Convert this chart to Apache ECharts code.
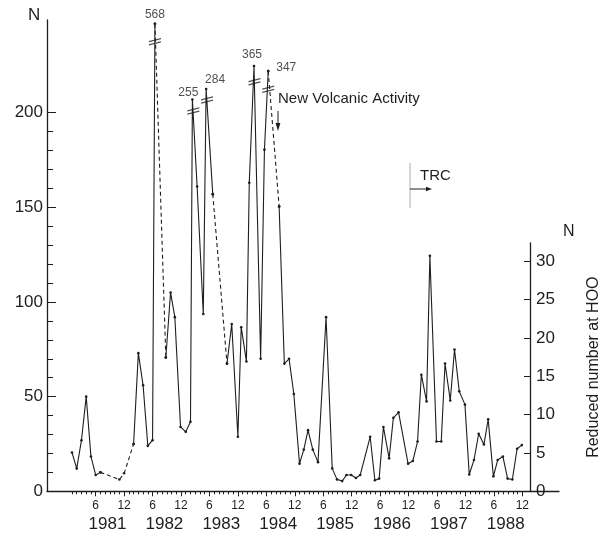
<!DOCTYPE html>
<html>
<head>
<meta charset="utf-8">
<script src="https://cdn.jsdelivr.net/npm/echarts@6/dist/echarts.min.js"></script>
<style>html,body{margin:0;padding:0;background:#fff}#c{width:610px;height:536px}</style>
</head>
<body>
<div id="c"></div>
<script>
// ---- data (months counted from Jan 1981 = 0) ----
const months = [0,1,2,3,4,5,6,10,11,13,14,15,16,17,17.5,19.8,20.8,21.7,22.9,24,25,25.4,26.4,27.7,28.3,29.7,32.7,33.7,35,35.7,36.8,37.4,38.4,39.8,40.6,41.4,43.7,44.8,45.8,46.8,48,48.9,49.8,50.8,51.9,53.6,54.9,55.9,57,57.9,58.9,59.9,60.8,62.9,63.9,64.8,65.7,66.9,67.8,68.9,70.9,71.9,72.9,73.7,74.8,75.5,76.9,77.9,78.7,79.8,80.7,81.7,82.9,83.8,84.8,85.8,86.9,87.8,88.9,89.8,90.9,91.9,92.9,93.9,94.9];
// values on the left N scale (peaks above 200 drawn compressed, real value in peakText)
const values = [20.5,12,27,50,18.4,8.6,10,6.2,9.5,25,73,56,24,27,247,70.7,105,92,34,31.4,36.7,207,161,93.7,212.5,157,67.4,88.4,28.8,86.7,68.6,163,224.7,70,180.5,222,150.5,67.4,70,51.4,14.6,22,32.3,22,15.4,92,12.1,6.3,5.4,8.6,8.6,7,8.6,28.8,5.8,6.7,34,17.4,38.8,41.7,14.6,16,26.3,61.6,47.5,124.4,26.3,26.3,67.5,48,74.9,52.8,45.8,8.9,16.5,30.4,24.7,38,7.9,16.5,18.4,6.7,6.2,22.5,24.4];
const dashedFrom = [6,7,8,14,25,35];           // segment i -> i+1 drawn dashed
const peakIndex = [14,21,24,32,35];
const peakText = ['568','255','284','365','347'];
const breakMonths = [17.5,25.6,28.5,38.5,41.4];
const breakValues = [237.5,200.9,206.7,216.4,212.4];
const leftTickLabels = [0,50,100,150,200];
const rightTickLabels = [0,5,10,15,20,25,30];
const yearLabels = ['1981','1982','1983','1984','1985','1986','1987','1988'];
const monthLabelValues = [];
for (let y = 0; y < 8; y++) { monthLabelValues.push(y*12+5, y*12+11); }
const monthTicks = [];
for (let m = 0; m <= 95; m++) monthTicks.push(m);
const yearPos = yearLabels.map((_, i) => i*12 + 7.5);
const minorLeft = [];
for (let v = 10; v < 200; v += 10) if (v % 50) minorLeft.push(v);

// ---- layout ----
const peakOffsets = [[0,-9],[-4,-7],[9,-9],[-2,-11],[18,-3]];
const XMIN = -5.27, XMAX = 102.74;
const ink = '#1e1e1e';
const font = '"Liberation Sans", Arial, sans-serif';

const segs = [];
let cur = null;
for (let i = 0; i < months.length - 1; i++) {
  const d = dashedFrom.includes(i);
  if (!cur || cur.dashed !== d) {
    if (cur) segs.push(cur);
    cur = {dashed: d, pts: [[months[i], values[i]]]};
  }
  cur.pts.push([months[i+1], values[i+1]]);
}
segs.push(cur);

const series = segs.map(s => ({
  type: 'line', xAxisIndex: 0, yAxisIndex: 0, data: s.pts,
  symbol: 'circle', symbolSize: 2.6, showSymbol: true,
  itemStyle: {color: ink},
  lineStyle: {color: ink, width: 1.1, type: s.dashed ? [4,3] : 'solid'},
  animation: false, silent: true, z: 3
}));
series.push({
  type: 'scatter', xAxisIndex: 0, yAxisIndex: 0, symbolSize: 0, animation: false, silent: true,
  data: peakIndex.map((idx, k) => ({
    value: [months[idx], values[idx]],
    label: {show: true, position: 'inside', offset: peakOffsets[k], formatter: peakText[k],
            color: ink, fontSize: 12, fontFamily: font}
  }))
});
series.push({
  type: 'scatter', xAxisIndex: 0, yAxisIndex: 0, animation: false, silent: true, z: 4,
  symbol: 'path://M0,3 L12,0 L12,1.3 L0,4.3 Z M0,6.2 L12,3.2 L12,4.5 L0,7.5 Z',
  symbolSize: [12, 7.5], itemStyle: {color: ink},
  data: breakMonths.map((m, i) => [m, breakValues[i]])
});

const option = {
  backgroundColor: '#fff',
  animation: false,
  grid: [
    {left: 47, right: 51, top: 20, bottom: 44.7},
    {left: 47, right: 51, top: 243, bottom: 44.7}
  ],
  xAxis: [
    {type: 'value', gridIndex: 0, min: XMIN, max: XMAX, position: 'bottom',
     axisLine: {show: true, onZero: false, lineStyle: {color: ink, width: 1.3}},
     axisTick: {show: true, customValues: monthTicks, length: 3, lineStyle: {color: ink}},
     axisLabel: {show: true, customValues: monthLabelValues, margin: 8,
       formatter: v => (Math.round(v) % 12 === 5 ? '6' : '12'), color: ink, fontSize: 12, fontFamily: font},
     splitLine: {show: false}},
    {type: 'value', gridIndex: 0, min: XMIN, max: XMAX, position: 'bottom', offset: 0,
     axisLine: {show: false, onZero: false},
     axisTick: {show: true, customValues: monthLabelValues, length: 5, lineStyle: {color: ink}},
     axisLabel: {show: true, customValues: yearPos, margin: 25,
       formatter: v => yearLabels[Math.round((v - 7.5) / 12)], color: ink, fontSize: 17, fontFamily: font},
     splitLine: {show: false}},
    {type: 'value', gridIndex: 1, min: XMIN, max: XMAX, show: false, axisLine: {onZero: false}}
  ],
  yAxis: [
    {type: 'value', gridIndex: 0, min: 0, max: 249, position: 'left',
     axisLine: {show: true, onZero: false, lineStyle: {color: ink, width: 1.3}},
     axisTick: {show: true, inside: true, customValues: leftTickLabels, length: 9, lineStyle: {color: ink}},
     axisLabel: {show: true, customValues: leftTickLabels, margin: 4, color: ink, fontSize: 17, fontFamily: font},
     splitLine: {show: false}},
    {type: 'value', gridIndex: 0, min: 0, max: 249, position: 'left',
     axisLine: {show: false, onZero: false},
     axisTick: {show: true, inside: true, customValues: minorLeft, length: 6, lineStyle: {color: ink}},
     axisLabel: {show: false}, splitLine: {show: false}},
    {type: 'value', gridIndex: 1, min: 0, max: 32.4, position: 'right',
     axisLine: {show: true, onZero: false, lineStyle: {color: ink, width: 1.3}},
     axisTick: {show: true, inside: true, customValues: rightTickLabels, length: 6, lineStyle: {color: ink}},
     axisLabel: {show: true, customValues: rightTickLabels, margin: 6, color: ink, fontSize: 17, fontFamily: font},
     splitLine: {show: false},
     name: 'Reduced number at HOO', nameLocation: 'middle', nameRotate: 90, nameGap: 56,
     nameTextStyle: {color: ink, fontSize: 16, fontFamily: font}}
  ],
  graphic: [
    {type: 'text', left: 28, top: 7, style: {text: 'N', fill: ink, font: '17px ' + font}},
    {type: 'text', left: 563, top: 224, style: {text: 'N', fill: ink, font: '16px ' + font}},
    {type: 'text', left: 278, top: 91, style: {text: 'New Volcanic Activity', fill: ink, font: '15px ' + font}},
    {type: 'line', shape: {x1: 278, y1: 111, x2: 278, y2: 128}, style: {stroke: ink, lineWidth: 1}},
    {type: 'polygon', shape: {points: [[275.6,123],[280.4,123],[278,131]]}, style: {fill: ink}},
    {type: 'text', left: 420, top: 168, style: {text: 'TRC', fill: ink, font: '15px ' + font}},
    {type: 'line', shape: {x1: 410, y1: 163, x2: 410, y2: 208}, style: {stroke: '#999', lineWidth: 0.8}},
    {type: 'line', shape: {x1: 410, y1: 189, x2: 428, y2: 189}, style: {stroke: ink, lineWidth: 1}},
    {type: 'polygon', shape: {points: [[426,186.8],[426,191.2],[432,189]]}, style: {fill: ink}}
  ],
  series: series
};
const chart = echarts.init(document.getElementById('c'), null, {renderer: 'canvas'});
chart.setOption(option);
</script>
</body>
</html>
